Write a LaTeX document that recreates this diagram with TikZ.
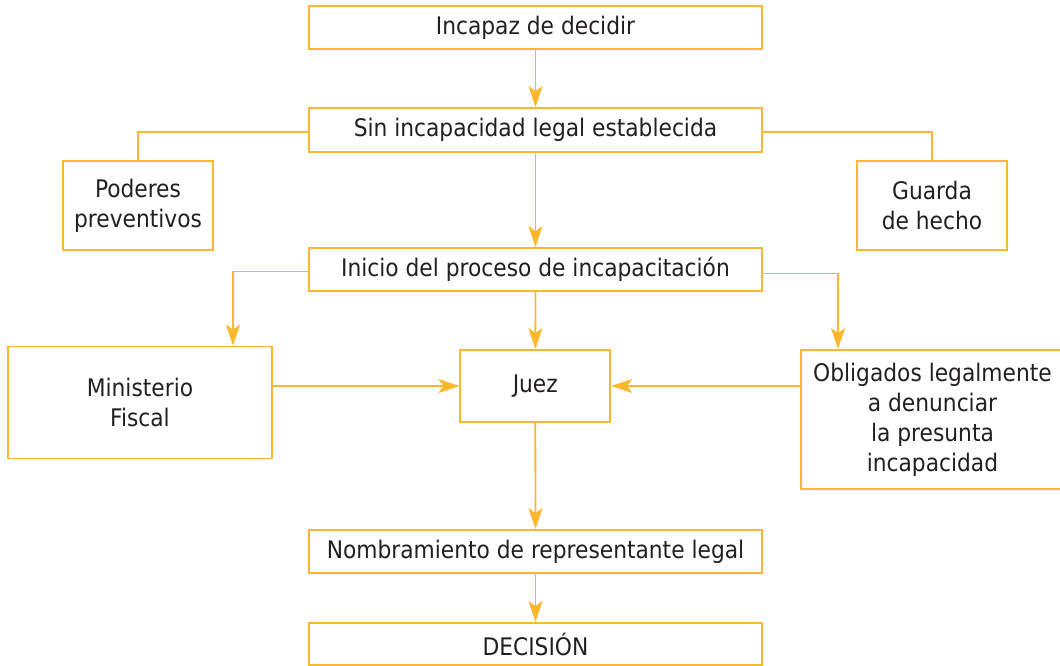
\documentclass[tikz,border=0pt]{standalone}
\usepackage{fontspec}
\setmainfont{DejaVu Sans Condensed}
\usetikzlibrary{arrows.meta,positioning}
\definecolor{ora}{RGB}{251,184,44}
\definecolor{txt}{RGB}{35,31,32}
\begin{document}
\begin{tikzpicture}[x=1pt,y=-1pt,
  box/.style={draw=ora,line width=1.8pt,rectangle,inner sep=0pt,align=center,text=txt,
    font=\fontsize{24.2}{30}\selectfont},
  con/.style={draw=ora,line width=1.8pt},
  arr/.style={con,-{Stealth[length=21pt,width=14pt,inset=5pt]}}]
\useasboundingbox (0,0) rectangle (1060,666);
\clip (0,0) rectangle (1060,666);
\node[box,minimum width=453,minimum height=43] (inc) at (535.5,27.5) {Incapaz de decidir};
\node[box,minimum width=453,minimum height=44] (sin) at (535.5,130) {Sin incapacidad legal establecida};
\node[box,minimum width=150,minimum height=89] (pod) at (138,205.5) {Poderes\\preventivos};
\node[box,minimum width=150,minimum height=89] (gua) at (932,205.5) {Guarda\\de hecho};
\node[box,minimum width=453,minimum height=43] (ini) at (535.5,269.5) {Inicio del proceso de incapacitación};
\node[box,minimum width=264,minimum height=112] (min) at (140,402.5) {Ministerio\\Fiscal};
\node[box,minimum width=150,minimum height=72] (juez) at (535.3,386) {Juez};
\node[box,minimum width=263,minimum height=139] (obl) at (932.5,419.5) {Obligados legalmente\\a denunciar\\la presunta\\incapacidad};
\node[box,minimum width=453,minimum height=43] (nom) at (535.5,551.5) {Nombramiento de representante legal};
\node[box,minimum width=453,minimum height=42] (dec) at (535.5,644) {DECISIÓN};
\draw[arr] (inc.south) -- (sin.north);
\draw[con] ([yshift=-2]sin.west) -| (pod.north);
\draw[con] ([yshift=-2]sin.east) -| (gua.north);
\draw[arr] (sin.south) -- (ini.north);
\draw[arr] ([yshift=-2]ini.west) -| ([xshift=93]min.north);
\draw[arr] ([yshift=-4]ini.east) -| ([xshift=-94.5]obl.north);
\draw[arr] (ini.south) -- (juez.north);
\draw[arr] (min.east |- juez.west) -- (juez.west);
\draw[arr] (obl.west |- juez.east) -- (juez.east);
\draw[arr] (juez.south) -- (nom.north);
\draw[arr] (nom.south) -- (dec.north);
\end{tikzpicture}
\end{document}
